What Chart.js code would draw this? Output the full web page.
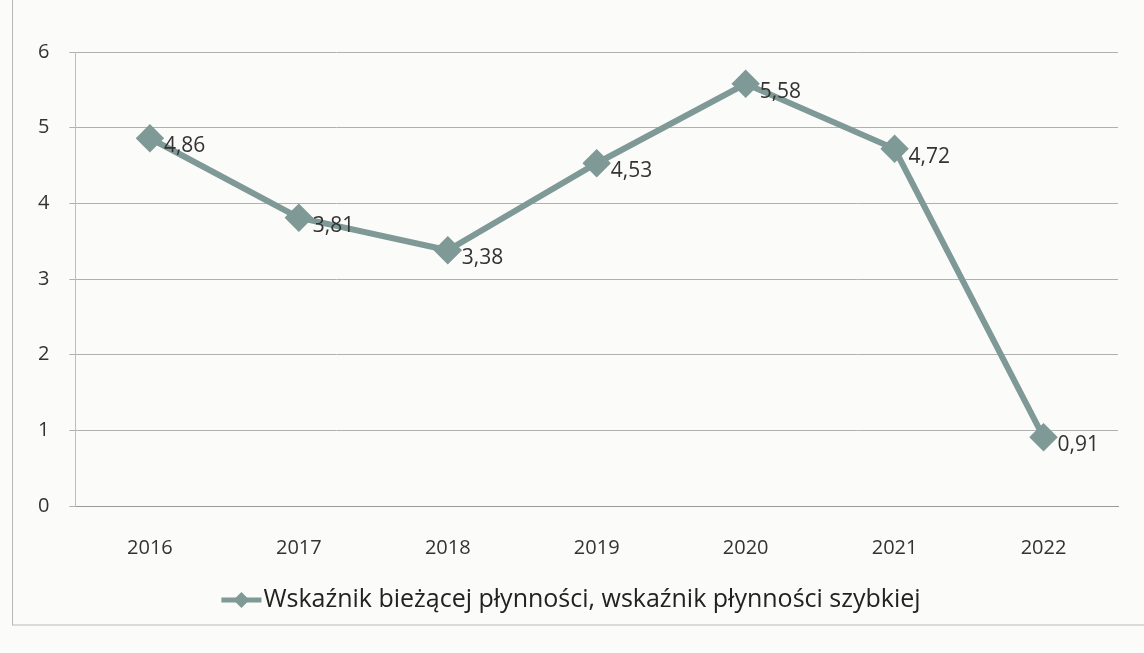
<!DOCTYPE html>
<html>
<head>
<meta charset="utf-8">
<script src="https://cdn.jsdelivr.net/npm/chart.js@4/dist/chart.umd.min.js"></script>
<style>
  html, body { margin: 0; padding: 0; background: #fbfbfa; }
  #wrap { width: 1144px; height: 653px; position: relative; }
</style>
</head>
<body>
<div id="wrap"><canvas id="c" width="1144" height="653"></canvas></div>
<script>
const years = ['2016', '2017', '2018', '2019', '2020', '2021', '2022'];
const ratio = [4.86, 3.81, 3.38, 4.53, 5.58, 4.72, 0.91];
const seriesName = 'Wskaźnik bieżącej płynności, wskaźnik płynności szybkiej';

const lineColor = '#7e9996';
const fontFam = '"Open Sans", Lato, sans-serif';

// labels like "4,86" right of each point
const valueLabels = {
  id: 'valueLabels',
  afterDatasetsDraw(chart) {
    const ctx = chart.ctx;
    const meta = chart.getDatasetMeta(0);
    ctx.save();
    ctx.font = '21px ' + fontFam;
    ctx.fillStyle = '#333';
    ctx.textBaseline = 'middle';
    meta.data.forEach((pt, i) => {
      const txt = ratio[i].toFixed(2).replace('.', ',');
      ctx.fillText(txt, pt.x + 14, pt.y + 8);
    });
    ctx.restore();
  }
};

// frame + legend at the bottom
const frameLegend = {
  id: 'frameLegend',
  beforeDraw(chart) {
    const ctx = chart.ctx;
    ctx.save();
    ctx.strokeStyle = '#b8b8b8';
    ctx.lineWidth = 1;
    ctx.strokeRect(12.5, -5, 1140, 630);
    ctx.restore();
  },
  afterDraw(chart) {
    const ctx = chart.ctx;
    ctx.save();
    ctx.font = '25px ' + fontFam;
    const w = ctx.measureText(seriesName).width;
    const total = 44 + w;
    const x0 = 572 - total / 2;
    const y = 600;
    ctx.strokeStyle = lineColor;
    ctx.lineWidth = 5;
    ctx.beginPath();
    ctx.moveTo(x0, y);
    ctx.lineTo(x0 + 40, y);
    ctx.stroke();
    ctx.fillStyle = lineColor;
    ctx.beginPath();
    ctx.moveTo(x0 + 20, y - 8);
    ctx.lineTo(x0 + 28, y);
    ctx.lineTo(x0 + 20, y + 8);
    ctx.lineTo(x0 + 12, y);
    ctx.closePath();
    ctx.fill();
    ctx.fillStyle = '#222';
    ctx.textBaseline = 'middle';
    ctx.fillText(seriesName, x0 + 42, y);
    ctx.restore();
  }
};

new Chart(document.getElementById('c'), {
  type: 'line',
  data: {
    labels: years,
    datasets: [{
      label: seriesName,
      data: ratio,
      borderColor: lineColor,
      backgroundColor: lineColor,
      borderWidth: 6,
      pointStyle: 'rectRot',
      pointRadius: 10,
      pointBackgroundColor: lineColor,
      pointBorderColor: lineColor,
      tension: 0
    }]
  },
  options: {
    responsive: false,
    animation: false,
    layout: { padding: { left: 18, right: 26, top: 52, bottom: 71 } },
    plugins: {
      legend: { display: false },
      tooltip: { enabled: false }
    },
    scales: {
      x: {
        offset: true,
        grid: { display: false },
        border: { color: '#9a9a9a' },
        ticks: { color: '#333', font: { size: 20, family: fontFam }, padding: 22 }
      },
      y: {
        min: 0,
        max: 6,
        ticks: { stepSize: 1, color: '#333', font: { size: 20, family: fontFam }, padding: 20 },
        grid: { color: '#b0b0b0', lineWidth: 1, tickLength: 6 },
        border: { color: '#b5c0c4', dash: [] }
      }
    }
  },
  plugins: [valueLabels, frameLegend]
});
</script>
</body>
</html>
